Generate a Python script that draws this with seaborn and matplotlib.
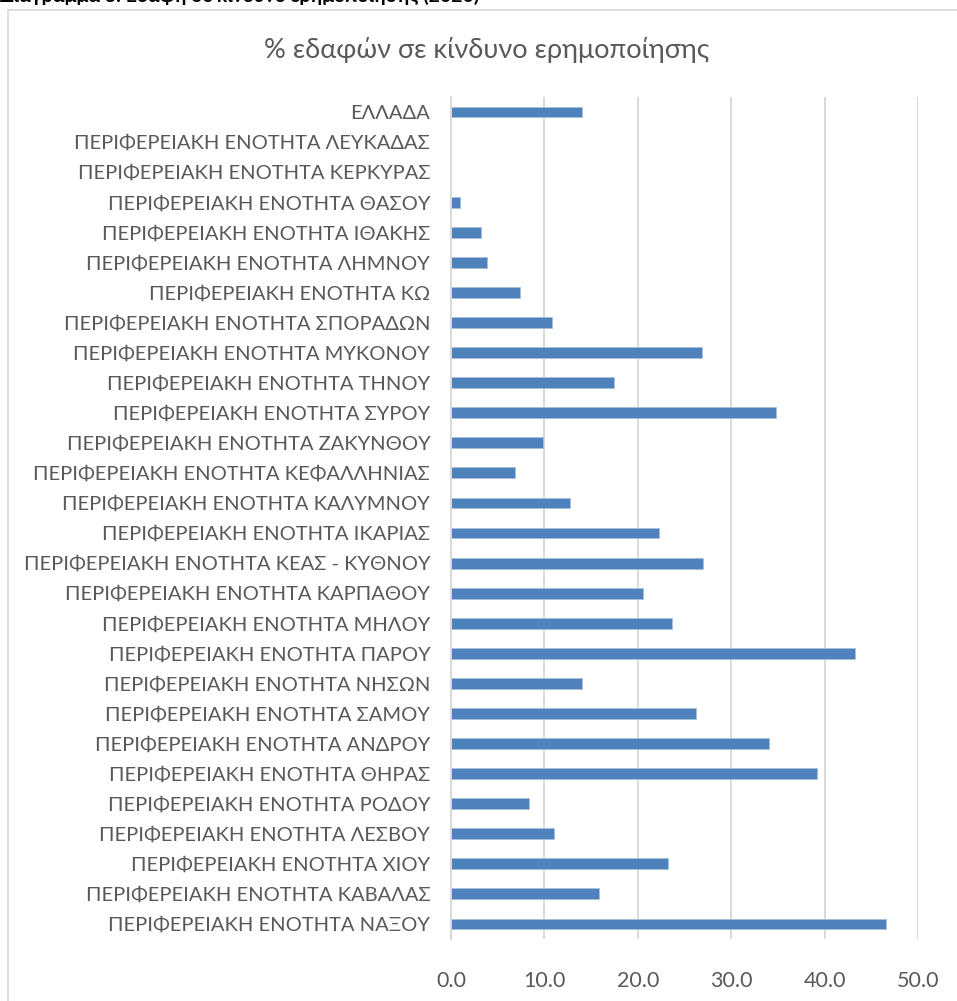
import matplotlib
matplotlib.use('Agg')
import matplotlib.pyplot as plt
import seaborn as sns
import pandas as pd
from matplotlib.patches import Rectangle

# περιοχές (από πάνω προς τα κάτω) και % εδαφών σε κίνδυνο ερημοποίησης
regions = [
    'ΕΛΛΑΔΑ',
    'ΠΕΡΙΦΕΡΕΙΑΚΗ ΕΝΟΤΗΤΑ ΛΕΥΚΑΔΑΣ',
    'ΠΕΡΙΦΕΡΕΙΑΚΗ ΕΝΟΤΗΤΑ ΚΕΡΚΥΡΑΣ',
    'ΠΕΡΙΦΕΡΕΙΑΚΗ ΕΝΟΤΗΤΑ ΘΑΣΟΥ',
    'ΠΕΡΙΦΕΡΕΙΑΚΗ ΕΝΟΤΗΤΑ ΙΘΑΚΗΣ',
    'ΠΕΡΙΦΕΡΕΙΑΚΗ ΕΝΟΤΗΤΑ ΛΗΜΝΟΥ',
    'ΠΕΡΙΦΕΡΕΙΑΚΗ ΕΝΟΤΗΤΑ ΚΩ',
    'ΠΕΡΙΦΕΡΕΙΑΚΗ ΕΝΟΤΗΤΑ ΣΠΟΡΑΔΩΝ',
    'ΠΕΡΙΦΕΡΕΙΑΚΗ ΕΝΟΤΗΤΑ ΜΥΚΟΝΟΥ',
    'ΠΕΡΙΦΕΡΕΙΑΚΗ ΕΝΟΤΗΤΑ ΤΗΝΟΥ',
    'ΠΕΡΙΦΕΡΕΙΑΚΗ ΕΝΟΤΗΤΑ ΣΥΡΟΥ',
    'ΠΕΡΙΦΕΡΕΙΑΚΗ ΕΝΟΤΗΤΑ ΖΑΚΥΝΘΟΥ',
    'ΠΕΡΙΦΕΡΕΙΑΚΗ ΕΝΟΤΗΤΑ ΚΕΦΑΛΛΗΝΙΑΣ',
    'ΠΕΡΙΦΕΡΕΙΑΚΗ ΕΝΟΤΗΤΑ ΚΑΛΥΜΝΟΥ',
    'ΠΕΡΙΦΕΡΕΙΑΚΗ ΕΝΟΤΗΤΑ ΙΚΑΡΙΑΣ',
    'ΠΕΡΙΦΕΡΕΙΑΚΗ ΕΝΟΤΗΤΑ ΚΕΑΣ - ΚΥΘΝΟΥ',
    'ΠΕΡΙΦΕΡΕΙΑΚΗ ΕΝΟΤΗΤΑ ΚΑΡΠΑΘΟΥ',
    'ΠΕΡΙΦΕΡΕΙΑΚΗ ΕΝΟΤΗΤΑ ΜΗΛΟΥ',
    'ΠΕΡΙΦΕΡΕΙΑΚΗ ΕΝΟΤΗΤΑ ΠΑΡΟΥ',
    'ΠΕΡΙΦΕΡΕΙΑΚΗ ΕΝΟΤΗΤΑ ΝΗΣΩΝ',
    'ΠΕΡΙΦΕΡΕΙΑΚΗ ΕΝΟΤΗΤΑ ΣΑΜΟΥ',
    'ΠΕΡΙΦΕΡΕΙΑΚΗ ΕΝΟΤΗΤΑ ΑΝΔΡΟΥ',
    'ΠΕΡΙΦΕΡΕΙΑΚΗ ΕΝΟΤΗΤΑ ΘΗΡΑΣ',
    'ΠΕΡΙΦΕΡΕΙΑΚΗ ΕΝΟΤΗΤΑ ΡΟΔΟΥ',
    'ΠΕΡΙΦΕΡΕΙΑΚΗ ΕΝΟΤΗΤΑ ΛΕΣΒΟΥ',
    'ΠΕΡΙΦΕΡΕΙΑΚΗ ΕΝΟΤΗΤΑ ΧΙΟΥ',
    'ΠΕΡΙΦΕΡΕΙΑΚΗ ΕΝΟΤΗΤΑ ΚΑΒΑΛΑΣ',
    'ΠΕΡΙΦΕΡΕΙΑΚΗ ΕΝΟΤΗΤΑ ΝΑΞΟΥ',
]
pct = [14.0, 0.0, 0.0, 1.0, 3.2, 3.9, 7.4, 10.8, 26.9, 17.4, 34.8, 9.8,
       6.8, 12.7, 22.3, 27.0, 20.6, 23.7, 43.3, 14.0, 26.2, 34.0, 39.2,
       8.4, 11.0, 23.2, 15.8, 46.6]
xticks = [0, 10, 20, 30, 40, 50]

df = pd.DataFrame({'region': regions, 'pct': pct})

sns.set_style('white')
plt.rcParams['font.family'] = ['Lato', 'DejaVu Sans']

fig = plt.figure(figsize=(9.57, 10.01), dpi=100)
ax = fig.add_axes([451 / 957, 62 / 1001, 467 / 957, 842 / 1001])

sns.barplot(data=df, x='pct', y='region', orient='h', color='#4F81BD',
            width=0.36, saturation=1, edgecolor='#A7BFDE', linewidth=0.6, ax=ax)

ax.set_xlim(0, 50)
ax.set_xticks(xticks)
ax.set_xticklabels([f'{v:.1f}' for v in xticks])
ax.set_xlabel('')
ax.set_ylabel('')
ax.grid(axis='x', color='#D9D9D9', linewidth=1.4)
ax.set_axisbelow(True)
for s in ['top', 'right', 'bottom']:
    ax.spines[s].set_visible(False)
ax.spines['left'].set_color('#D9D9D9')
ax.spines['left'].set_linewidth(1.4)
ax.tick_params(axis='y', length=0, pad=15, labelsize=14.5, labelcolor='#595959')
ax.tick_params(axis='x', length=0, pad=23, labelsize=15.5, labelcolor='#595959')

# πλαίσιο γραφήματος
fig.patches.append(Rectangle((8 / 957, -0.05), 1.2, 1.05 - 10 / 1001,
                             transform=fig.transFigure, fill=False,
                             edgecolor='#D9D9D9', linewidth=1.2))

fig.text(487 / 957, 1 - 50 / 1001, '% εδαφών σε κίνδυνο ερημοποίησης',
         ha='center', va='center', fontsize=19.5, color='#595959')
fig.text(0.0, 1 - 5 / 1001, 'Διάγραμμα 3: Εδάφη σε κίνδυνο ερημοποίησης (2020)',
         ha='left', va='bottom', fontsize=14, fontweight='bold', color='black')

fig.savefig('out.png', dpi=100)
